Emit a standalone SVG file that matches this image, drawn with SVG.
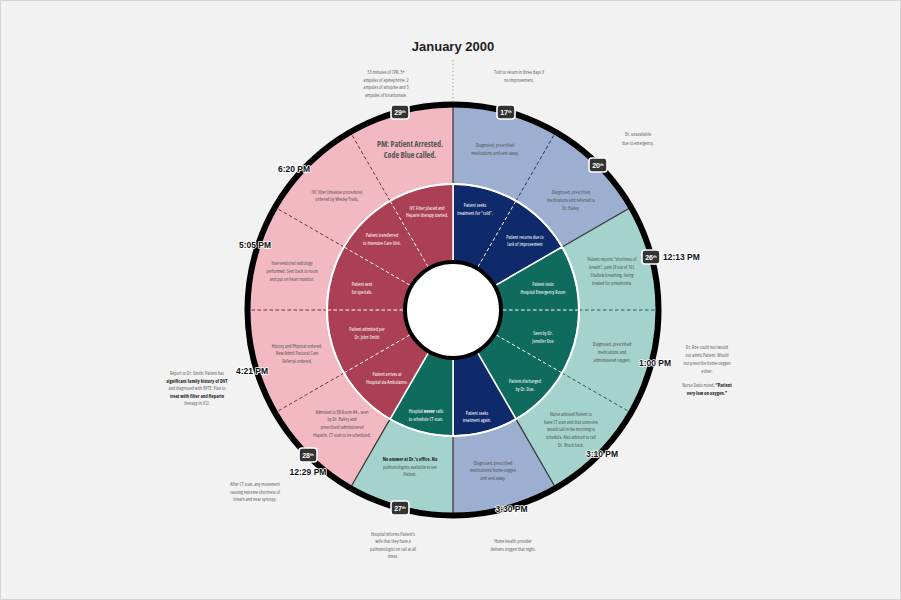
<svg xmlns="http://www.w3.org/2000/svg" width="901" height="600" viewBox="0 0 901 600">
<style>
.t{font-family:"Open Sans","Liberation Sans",sans-serif;font-stretch:75%;font-size:5px;text-anchor:middle;fill:#555}
.n{fill:#666}
.w{fill:#fff}
.b{font-weight:bold;fill:#222}
.big{font-family:"Open Sans","Liberation Sans",sans-serif;font-stretch:75%;font-size:8px;font-weight:bold;text-anchor:middle;fill:#555}
.tm{font-family:"Liberation Sans",Arial,sans-serif;font-size:8.5px;font-weight:bold;fill:#111;stroke:#fff;stroke-width:1.6px;paint-order:stroke;stroke-linejoin:round;text-anchor:middle}
.bd rect{fill:#333;stroke:#fff;stroke-width:1.6}
.bd text{font-family:"Liberation Sans",Arial,sans-serif;font-size:7px;font-weight:bold;fill:#fff;text-anchor:middle}
.pink{fill:#f2b9c3}.crim{fill:#ab4054;stroke:#fff;stroke-width:1.5}
.lblue{fill:#9dafd1}.navy{fill:#0f2a6b;stroke:#fff;stroke-width:1.5}
.teal{fill:#a3d3cc}.green{fill:#0f6b5d;stroke:#fff;stroke-width:1.5}
.div{stroke:#333;stroke-width:1.2}
.dw{stroke:#fff;stroke-width:1;stroke-dasharray:3.5 2.5}
.dm{stroke:#7a2a3c;stroke-width:1;stroke-dasharray:3.5 2.5}
.dn{stroke:#1e346d;stroke-width:1;stroke-dasharray:3.5 2.5}
.dt{stroke:#205e55;stroke-width:1;stroke-dasharray:3.5 2.5}
</style>
<rect x="0.5" y="0.5" width="900" height="599" fill="#f2f2f2" stroke="#d4d4d4"/>
<text x="453" y="51" font-family="Liberation Sans,Arial,sans-serif" font-size="13" font-weight="bold" text-anchor="middle" fill="#222">January 2000</text>
<line x1="453" y1="60" x2="453" y2="101" stroke="#999" stroke-width="1" stroke-dasharray="1.2 2.5"/>

<g id="outer-ring">
<g id="o-17"><path class="lblue" d="M453,310 L453,104 A206,206 0 0 1 631.4,207 Z"/></g>
<g id="o-26"><path class="teal" d="M453,310 L631.4,207 A206,206 0 0 1 556,488.4 Z"/></g>
<g id="o-3-30"><path class="lblue" d="M453,310 L556,488.4 A206,206 0 0 1 453,516 Z"/></g>
<g id="o-27"><path class="teal" d="M453,310 L453,516 A206,206 0 0 1 350,488.4 Z"/></g>
<g id="o-28"><path class="pink" d="M453,310 L350,488.4 A206,206 0 0 1 453,104 Z"/></g>
</g>
<g id="inner-ring">
<g id="i-navy1"><path class="navy" d="M453,310 L453,184 A126,126 0 0 1 562.1,247 Z"/></g>
<g id="i-green1"><path class="green" d="M453,310 L562.1,247 A126,126 0 0 1 516,419.1 Z"/></g>
<g id="i-navy2"><path class="navy" d="M453,310 L516,419.1 A126,126 0 0 1 453,436 Z"/></g>
<g id="i-green2"><path class="green" d="M453,310 L453,436 A126,126 0 0 1 390,419.1 Z"/></g>
<g id="i-crimson"><path class="crim" d="M453,310 L390,419.1 A126,126 0 0 1 453,184 Z"/></g>
</g>

<g id="connectors">
<line class="div" x1="453" y1="184" x2="453" y2="104"/>
<line class="div" x1="562.1" y1="247" x2="629.7" y2="208"/>
<line class="div" x1="516" y1="419.1" x2="555" y2="486.7"/>
<line class="div" x1="453" y1="436" x2="453" y2="514"/>
<line class="div" x1="390" y1="419.1" x2="351" y2="486.7"/>
<line class="dn" x1="516" y1="200.9" x2="555" y2="133.3"/>
<line class="dt" x1="579" y1="310" x2="657" y2="310"/>
<line class="dt" x1="562.1" y1="373" x2="629.7" y2="412"/>
<line class="dm" x1="344" y1="373" x2="276.3" y2="412"/>
<line class="dm" x1="327" y1="310" x2="249" y2="310"/>
<line class="dm" x1="344" y1="247" x2="276.3" y2="208"/>
<line class="dm" x1="390" y1="200.9" x2="351" y2="133.3"/>
<line class="dw" x1="478" y1="266.7" x2="516" y2="200.9"/>
<line class="dw" x1="503" y1="310" x2="579" y2="310"/>
<line class="dw" x1="496.3" y1="335" x2="562.1" y2="373"/>
<line class="dw" x1="409.7" y1="335" x2="344" y2="373"/>
<line class="dw" x1="403" y1="310" x2="327" y2="310"/>
<line class="dw" x1="409.7" y1="285" x2="344" y2="247"/>
<line class="dw" x1="428" y1="266.7" x2="390" y2="200.9"/>
<circle cx="453" cy="310" r="126" fill="none" stroke="#fff" stroke-width="2"/>
</g>
<circle id="rim" cx="453" cy="310" r="205.5" fill="none" stroke="#000" stroke-width="6"/>
<circle id="hub" cx="453" cy="310" r="48" fill="#fff" stroke="#000" stroke-width="4"/>

<g id="outer-texts">
<text class="t"><tspan x="495" y="147">Diagnosed, prescribed</tspan><tspan x="495" y="154.5">medications and sent away.</tspan></text>
<text class="t"><tspan x="571" y="194">Diagnosed, prescribed</tspan><tspan x="571" y="201.5">medications and referred to</tspan><tspan x="571" y="209.5">Dr. Bailey.</tspan></text>
<text class="t"><tspan x="612" y="261">Patient reports “shortness of</tspan><tspan x="612" y="269">breath”, pain (9 out of 10).</tspan><tspan x="612" y="277">Shallow breathing, being</tspan><tspan x="612" y="284.5">treated for pneumonia.</tspan></text>
<text class="t"><tspan x="612" y="346">Diagnosed, prescribed</tspan><tspan x="612" y="354">medications and</tspan><tspan x="612" y="361.5">administered oxygen.</tspan></text>
<text class="t"><tspan x="571" y="416">Nurse advised Patient to</tspan><tspan x="571" y="423.5">have CT scan and that someone</tspan><tspan x="571" y="431">would call in the morning to</tspan><tspan x="571" y="439">schedule. Also advised to call</tspan><tspan x="571" y="446.5">Dr. Brock back.</tspan></text>
<text class="t"><tspan x="493" y="464.5">Diagnosed, prescribed</tspan><tspan x="493" y="472">medications/home-oxygen</tspan><tspan x="493" y="479.5">and sent away.</tspan></text>
<text class="t"><tspan x="410" y="461" class="b">No answer at Dr.’s office. No</tspan><tspan x="410" y="468.5">pulmonologists available to see</tspan><tspan x="410" y="476">Patient.</tspan></text>
<text class="t"><tspan x="342" y="413.5">Admitted to ER Room #4., seen</tspan><tspan x="342" y="421">by Dr. Bailey and</tspan><tspan x="342" y="429">prescribed/administered</tspan><tspan x="342" y="436.5">Heparin. CT scan to be scheduled.</tspan></text>
<text class="t"><tspan x="297" y="347.5">History and Physical ordered.</tspan><tspan x="297" y="355">New Admit Pastoral Care</tspan><tspan x="297" y="362.5">Referral ordered.</tspan></text>
<text class="t"><tspan x="292" y="265">Interventional radiology</tspan><tspan x="292" y="273">performed. Sent back to room</tspan><tspan x="292" y="280.5">and put on heart monitor.</tspan></text>
<text class="t"><tspan x="337" y="193.5">IVC filter (invasive procedure)</tspan><tspan x="337" y="201">ordered by Wesley Trails.</tspan></text>
<text class="big"><tspan x="410" y="147">PM: Patient Arrested.</tspan><tspan x="410" y="157.5">Code Blue called.</tspan></text>
</g>

<g id="inner-texts">
<text class="t w"><tspan x="475" y="207">Patient seeks</tspan><tspan x="475" y="214.5">treatment for “cold”.</tspan></text>
<text class="t w"><tspan x="525" y="238.5">Patient returns due to</tspan><tspan x="525" y="246">lack of improvement</tspan></text>
<text class="t w"><tspan x="543" y="286">Patient visits</tspan><tspan x="543" y="294">Hospital Emergency Room</tspan></text>
<text class="t w"><tspan x="543" y="335">Seen by Dr.</tspan><tspan x="543" y="342.5">Jennifer Doe</tspan></text>
<text class="t w"><tspan x="525" y="383">Patient discharged</tspan><tspan x="525" y="390.5">by Dr. Doe.</tspan></text>
<text class="t w"><tspan x="477" y="414.5">Patient seeks</tspan><tspan x="477" y="422">treatment again.</tspan></text>
<text class="t w"><tspan x="426" y="413">Hospital <tspan font-weight="bold">never</tspan> calls</tspan><tspan x="426" y="420.5">to schedule CT scan.</tspan></text>
<text class="t w"><tspan x="387" y="376">Patient arrives at</tspan><tspan x="387" y="383.5">Hospital via Ambulance.</tspan></text>
<text class="t w"><tspan x="367" y="331">Patient admitted per</tspan><tspan x="367" y="338.5">Dr. John Smith</tspan></text>
<text class="t w"><tspan x="362" y="286">Patient sent</tspan><tspan x="362" y="294">for specials.</tspan></text>
<text class="t w"><tspan x="382" y="237">Patient transferred</tspan><tspan x="382" y="244.5">to Intensive Care Unit.</tspan></text>
<text class="t w"><tspan x="427" y="209.5">IVC Filter placed and</tspan><tspan x="427" y="217">Heparin therapy started.</tspan></text>
</g>

<g id="notes">
<text class="t n"><tspan x="386" y="74">33 minutes of CPR, 5+</tspan><tspan x="386" y="82">ampules of epinephrine, 2</tspan><tspan x="386" y="89">ampules of atropine and 3</tspan><tspan x="386" y="97">ampules of bicarbonate.</tspan></text>
<text class="t n"><tspan x="519" y="74">Told to return in three days if</tspan><tspan x="519" y="82">no improvement.</tspan></text>
<text class="t n"><tspan x="638" y="136">Dr. unavailable</tspan><tspan x="638" y="144.5">due to emergency.</tspan></text>
<text class="t n"><tspan x="707" y="349">Dr. Roe could not/would</tspan><tspan x="707" y="357">not admit Patient. Would</tspan><tspan x="707" y="365">not prescribe home-oxygen</tspan><tspan x="707" y="372.5">either.</tspan><tspan x="707" y="387">Nurse Davis noted, <tspan class="b">“Patient</tspan></tspan><tspan x="707" y="395" class="b">very low on oxygen.”</tspan></text>
<text class="t n"><tspan x="513" y="543">Home health provider</tspan><tspan x="513" y="551">delivers oxygen that night.</tspan></text>
<text class="t n"><tspan x="393" y="535.5">Hospital informs Patient’s</tspan><tspan x="393" y="543">wife that they have a</tspan><tspan x="393" y="551">pulmonologist on call at all</tspan><tspan x="393" y="558">times.</tspan></text>
<text class="t n"><tspan x="255" y="486">After CT scan, any movement</tspan><tspan x="255" y="493.5">causing extreme shortness of</tspan><tspan x="255" y="501">breath and near syncopy.</tspan></text>
<text class="t n"><tspan x="197" y="375">Report to Dr. Smith: Patient has</tspan><tspan x="197" y="382.5" class="b">significant family history of DVT</tspan><tspan x="197" y="390">and diagnosed with BPTE. Plan to</tspan><tspan x="197" y="398" class="b">treat with filter and Heparin</tspan><tspan x="197" y="405">therapy in ICU.</tspan></text>
</g>

<g id="badges" class="bd">
<g id="b29"><rect x="391" y="105" width="18" height="14" rx="3"/><text x="400" y="115">29<tspan font-size="4" dy="-2.5">th</tspan></text></g>
<g id="b17"><rect x="497" y="105" width="18" height="14" rx="3"/><text x="506" y="115">17<tspan font-size="4" dy="-2.5">th</tspan></text></g>
<g id="b20"><rect x="589" y="158" width="18" height="14" rx="3"/><text x="598" y="168">20<tspan font-size="4" dy="-2.5">th</tspan></text></g>
<g id="b26"><rect x="642" y="250" width="18" height="14" rx="3"/><text x="651" y="260">26<tspan font-size="4" dy="-2.5">th</tspan></text></g>
<g id="b27"><rect x="391" y="501" width="18" height="14" rx="3"/><text x="400" y="511">27<tspan font-size="4" dy="-2.5">th</tspan></text></g>
<g id="b28"><rect x="299" y="448" width="18" height="14" rx="3"/><text x="308" y="458">28<tspan font-size="4" dy="-2.5">th</tspan></text></g>
</g>

<g id="times">
<text class="tm" x="663" y="260" style="text-anchor:start">12:13 PM</text>
<text class="tm" x="655" y="366">1:00 PM</text>
<text class="tm" x="602" y="457">3:10 PM</text>
<text class="tm" x="511.5" y="512">3:30 PM</text>
<text class="tm" x="308" y="475">12:29 PM</text>
<text class="tm" x="252" y="374">4:21 PM</text>
<text class="tm" x="255" y="248">5:05 PM</text>
<text class="tm" x="294" y="172">6:20 PM</text>
</g>
</svg>
